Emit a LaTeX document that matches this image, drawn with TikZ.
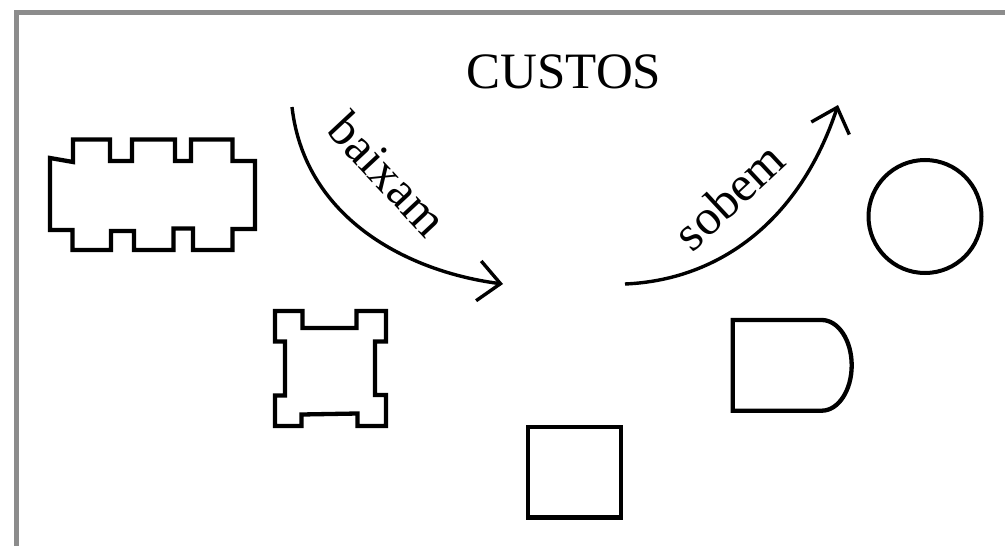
\documentclass[tikz,border=0pt]{standalone}
\usepackage{fontspec}
\setmainfont{Liberation Serif}
\usetikzlibrary{arrows.meta}
\tikzset{
  frameline/.style={draw=black!45, line width=5pt},
  outline/.style={draw=black, line width=4.3pt, line join=miter},
  costarrow/.style={draw=black, line width=3.4pt,
    -{Straight Barb[length=22pt, width=40pt, line width=3.4pt]}},
  biglabel/.style={font=\fontsize{51}{57}\selectfont, inner sep=0pt},
  curvelabel/.style={font=\fontsize{50}{55}\selectfont, inner sep=0pt}
}
\begin{document}
\begin{tikzpicture}[x=1pt, y=-1pt]
\useasboundingbox (0,0) rectangle (1005,546);
\fill[white] (0,0) rectangle (1005,546);
% frame (top and left edges)
\draw[frameline] (16.5,560) -- (16.5,12.5) -- (1020,12.5);

% title
\node[biglabel] (title) at (564,72) {CUSTOS};

% wide crenellated block
\draw[outline] (50,158) -- (73,162) -- (73,139.5) -- (110,139.5) -- (110,161)
  -- (132,161) -- (132,139.5) -- (175,139.5) -- (175,161) -- (191,161)
  -- (191,139.5) -- (232.5,139.5) -- (232.5,161) -- (255,161) -- (255,229)
  -- (232.5,229) -- (232.5,250) -- (193,250) -- (193,228.5) -- (173.5,228.5)
  -- (173.5,250) -- (134,250) -- (134,231) -- (111,231) -- (111,250)
  -- (72.5,250) -- (72.5,230) -- (50,230) -- cycle;

% small block with corner tabs
\draw[outline] (275,311) -- (302.5,311) -- (302.5,328) -- (356.5,328)
  -- (356.5,311) -- (386,311) -- (386,341.5) -- (375,341.5) -- (375,395)
  -- (386,395) -- (386,426) -- (357.5,426) -- (357.5,413.5)
  -- (301.5,414.5) -- (301.5,426) -- (275,426) -- (275,395.5) -- (285,395.5)
  -- (285,341.5) -- (275,341.5) -- cycle;

% square
\draw[outline] (528,427) rectangle (621,517.5);

% D shape
\draw[outline] (821.7,320) -- (732.7,320) -- (732.7,410.7) -- (821.7,410.7)
  arc[start angle=90, end angle=-90, x radius=30pt, y radius=-45.35pt];

% circle
\draw[outline, line width=4pt] (925,216.5) circle[radius=56.5pt];

% arrows
\coordinate (downstart) at (292,107);
\coordinate (downend) at (503,284);
\coordinate (upstart) at (625,284);
\coordinate (upend) at (838,105);
\draw[costarrow] (downstart) .. controls (305,220) and (410,272) .. (downend);
\draw[costarrow] (upstart) .. controls (720,280) and (800,220) .. (upend);

\node[curvelabel, rotate=-47] (down) at (388,174) {baixam};
\node[curvelabel, rotate=43] (up) at (729,196) {sobem};
\end{tikzpicture}
\end{document}
